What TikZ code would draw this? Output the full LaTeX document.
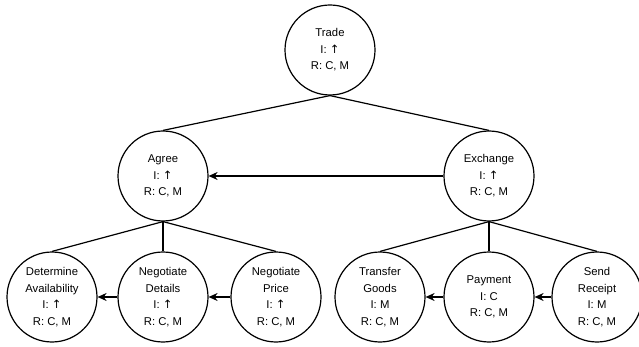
\documentclass[tikz,border=0pt]{standalone}
\usepackage{fontspec}
\setmainfont{Liberation Sans}
\newfontfamily\arrowfont{DejaVu Sans}
\usetikzlibrary{arrows.meta}
\newcommand{\uparr}{{\arrowfont\fontsize{11.5}{11.5}\selectfont ↑}}
\tikzset{
  task/.style={circle, draw, line width=1.2pt, minimum size=90pt, inner sep=0pt,
    align=center, font=\fontsize{11.3}{16.5}\selectfont},
  link/.style={line width=1.2pt},
  arr/.style={line width=1.2pt, -{Stealth[length=9pt,width=8pt]}}
}
\begin{document}
\begin{tikzpicture}[x=1pt,y=-1pt]
\useasboundingbox (0,0) rectangle (639,347);
\node[task] (trade) at (330,50) {Trade\\I: \uparr\\R: C, M};
\node[task] (agree) at (163,176) {Agree\\I: \uparr\\R: C, M};
\node[task] (exch) at (489,176) {Exchange\\I: \uparr\\R: C, M};
\node[task] (det) at (52,297) {Determine\\Availability\\I: \uparr\\R: C, M};
\node[task] (ndet) at (163,297) {Negotiate\\Details\\I: \uparr\\R: C, M};
\node[task] (nprice) at (276,297) {Negotiate\\Price\\I: \uparr\\R: C, M};
\node[task] (tg) at (380,297) {Transfer\\Goods\\I: M\\R: C, M};
\node[task] (pay) at (489,297) {Payment\\I: C\\R: C, M};
\node[task] (sr) at (597,297) {Send\\Receipt\\I: M\\R: C, M};

\draw[link] (trade.south) -- (agree.north);
\draw[link] (trade.south) -- (exch.north);
\draw[link] (agree.south) -- (det.north);
\draw[link] (agree.south) -- (ndet.north);
\draw[link] (agree.south) -- (nprice.north);
\draw[link] (exch.south) -- (tg.north);
\draw[link] (exch.south) -- (pay.north);
\draw[link] (exch.south) -- (sr.north);

\draw[arr] (exch.west) -- (agree.east);
\draw[arr] (ndet.west) -- (det.east);
\draw[arr] (nprice.west) -- (ndet.east);
\draw[arr] (pay.west) -- (tg.east);
\draw[arr] (sr.west) -- (pay.east);
\end{tikzpicture}
\end{document}
